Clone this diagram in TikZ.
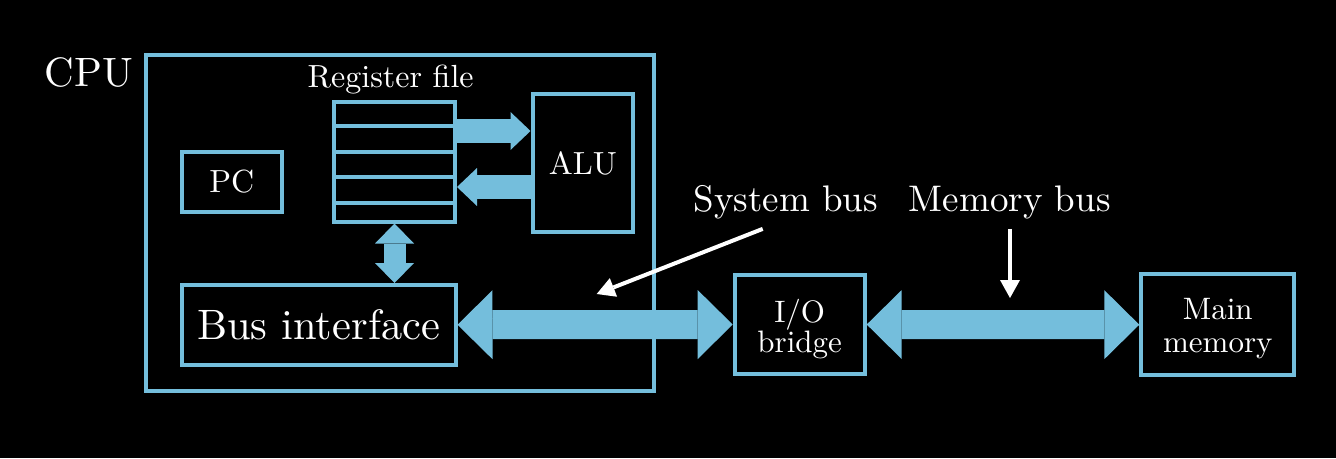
\documentclass[tikz,border=0pt]{standalone}
\usepackage{fontspec}
\setmainfont{lmroman10-regular.otf}
\usetikzlibrary{arrows.meta}
\definecolor{cpublue}{RGB}{116,190,220}
\begin{document}
\begin{tikzpicture}[x=1pt,y=-1pt,
  box/.style={draw=cpublue, line width=4pt, rectangle, inner sep=0pt, text=white},
  lbl/.style={text=white, inner sep=0pt},
  fbig/.style={font=\fontsize{41}{45}\selectfont},
  fbus/.style={font=\fontsize{42.5}{45}\selectfont},
  fmid/.style={font=\fontsize{37}{40}\selectfont},
  fsmall/.style={font=\fontsize{32}{32}\selectfont},
  bus/.style={draw=cpublue, line width=29pt,
    {Triangle[length=35pt,width=69pt,line width=0pt]}-{Triangle[length=35pt,width=69pt,line width=0pt]}},
  regarrow/.style={draw=cpublue, line width=24pt,
    -{Triangle[length=20pt,width=38pt,line width=0pt]}},
  regbus/.style={draw=cpublue, line width=22pt,
    {Triangle[length=20pt,width=39pt,line width=0pt]}-{Triangle[length=20pt,width=39pt,line width=0pt]}},
  note/.style={draw=white, line width=4pt,
    -{Triangle[length=18pt,width=20pt,line width=0pt]}},
  rowline/.style={draw=cpublue, line width=4pt}
]
\fill[black] (0,0) rectangle (1336,458);
\useasboundingbox (0,0) rectangle (1336,458);

% CPU
\node[box, minimum width=507.5pt, minimum height=335.5pt] (cpu) at (399.75,222.75) {};
\node[lbl, fbig, anchor=base] (cpulbl) at (88.8,86) {CPU};

% register file
\node[lbl, fsmall, anchor=base] (reglbl) at (390.6,87.5) {Register file};
\node[box, minimum width=121pt, minimum height=120pt] (reg) at (394.5,161.5) {};
\foreach \yy in {126,151.7,176.7,202.7}
  \draw[rowline] (334,\yy) -- (455,\yy);

% other CPU blocks
\node[box, fsmall, minimum width=100.5pt, minimum height=60pt] (pc) at (231.75,182) {PC};
\node[box, fbus, minimum width=274pt, minimum height=79.5pt] (bi) at (318.5,324.75) {Bus interface};
\node[box, fsmall, minimum width=100.5pt, minimum height=138pt] (alu) at (582.75,163) {ALU};

% outside blocks
\node[box, font=\fontsize{31}{30}\selectfont, align=center, minimum width=130pt, minimum height=99pt] (io) at (799.7,324.5) {\rule{0pt}{32pt}I/O\\bridge};
\node[box, font=\fontsize{31}{33}\selectfont, align=center, minimum width=153pt, minimum height=101pt] (mem) at (1217.8,324.7) {\rule{0pt}{29.6pt}Main\\memory};

% labels
\node[lbl, fmid, anchor=base] (sysbus) at (785.8,211) {System bus};
\node[lbl, fmid, anchor=base] (membus) at (1009.8,211.5) {Memory bus};

% helper levels
\coordinate (rA) at (0,131);
\coordinate (lA) at (0,187);
\coordinate (sbtip) at (596.7,294);
\coordinate (mbtip) at (1010,298);

% arrows
\draw[regarrow] (reg.east |- rA) -- (alu.west |- rA);
\draw[regarrow] (alu.west |- lA) -- (reg.east |- lA);
\draw[regbus] (reg.south) -- (reg.south |- bi.north);
\draw[bus] (bi.east) -- (io.west);
\draw[bus] (io.east) -- (mem.west);

\draw[note] ([shift={(-23.1,10.1)}]sysbus.south) -- (sbtip);
\draw[note] ([shift={(0.2,9.6)}]membus.south) -- (mbtip);
\end{tikzpicture}
\end{document}
